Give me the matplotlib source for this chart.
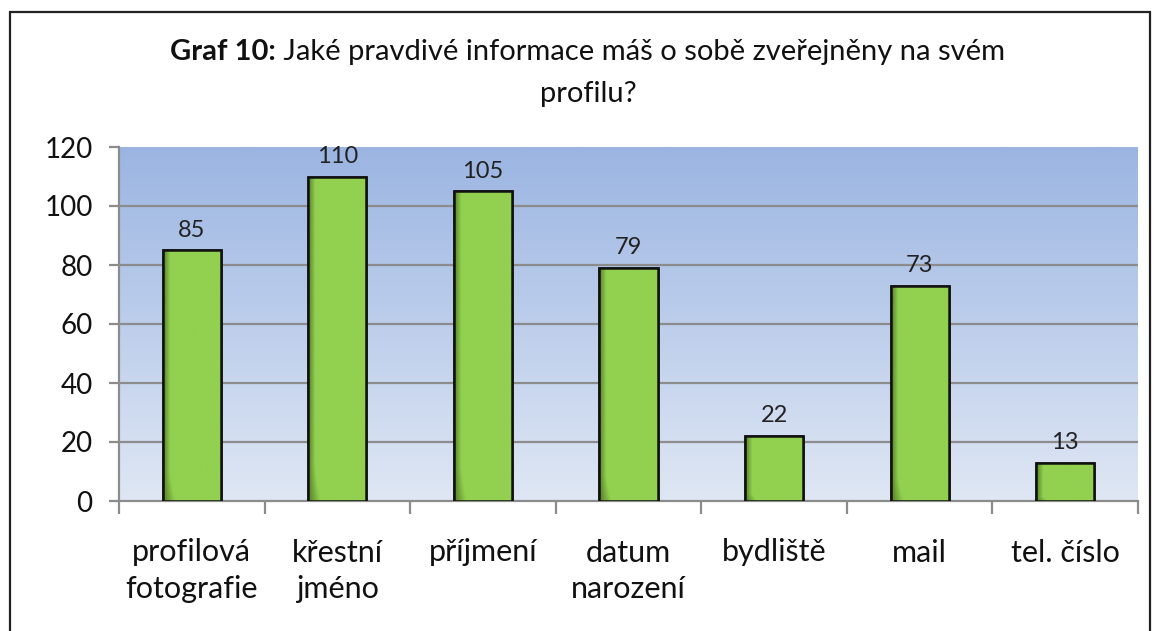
import numpy as np
import matplotlib.pyplot as plt
from matplotlib.patches import Rectangle
from matplotlib.colors import LinearSegmentedColormap

# data
categories = ["profilová\nfotografie", "křestní\njméno", "příjmení", "datum\nnarození",
              "bydliště", "mail", "tel. číslo"]
values = [85, 110, 105, 79, 22, 73, 13]
yticks = [0, 20, 40, 60, 80, 100, 120]

plt.rcParams['font.family'] = ['Lato', 'DejaVu Sans']

fig = plt.figure(figsize=(11.56, 6.31), dpi=100)
ax = fig.add_axes([119 / 1156, 1 - 501 / 631, (1138 - 119) / 1156, (501 - 147) / 631])

n = len(values)
x = np.arange(n)
ax.set_xlim(-0.5, n - 0.5)
ax.set_ylim(0, 120)

# gradient background of the plot area
bg = LinearSegmentedColormap.from_list("bg", ["#dfe7f4", "#9bb5e2"])
grad = np.linspace(0, 1, 256).reshape(-1, 1)
ax.imshow(grad, cmap=bg, aspect='auto', origin='lower',
          extent=(-0.5, n - 0.5, 0, 120), zorder=0)

# grid
for t in yticks[1:-1]:
    ax.axhline(t, color='#8c8c8c', lw=1.6, zorder=1)

# bars with horizontal shading
bars = ax.bar(x, values, width=0.4, color='#92d050', edgecolor='#111111',
              linewidth=1.8, zorder=3)
shade = LinearSegmentedColormap.from_list("sh", ["#557f28", "#92d050", "#92d050"])
hgrad = np.tile(np.concatenate([np.linspace(0, 1, 25), np.ones(75)]), (50, 1))
vgrad = np.concatenate([np.linspace(0.6, 1, 6), np.ones(44)]).reshape(-1, 1)
img = hgrad * vgrad
for b in bars:
    bx, bw, bh = b.get_x(), b.get_width(), b.get_height()
    im = ax.imshow(img, cmap=shade, vmin=0, vmax=1, aspect='auto', origin='lower',
                   extent=(bx, bx + bw, 0, bh), zorder=3.5)
    im.set_clip_path(b)
    ax.add_patch(Rectangle((bx, 0), bw, bh, fill=False, edgecolor='#111111',
                           lw=1.8, zorder=4))

# value labels
for xi, v in zip(x, values):
    ax.annotate(str(v), (xi, v), xytext=(0, 7), textcoords='offset points',
                ha='center', va='bottom', fontsize=17, color='#222222', zorder=5)

ax.set_xlim(-0.5, n - 0.5)
ax.set_ylim(0, 120)

# axes styling
for s in ['top', 'right']:
    ax.spines[s].set_visible(False)
for s in ['left', 'bottom']:
    ax.spines[s].set_color('#8c8c8c')
    ax.spines[s].set_linewidth(1.6)
ax.spines['bottom'].set_zorder(2)

ax.set_yticks(yticks)
ax.tick_params(axis='y', length=7, width=1.6, color='#8c8c8c', labelsize=20,
               pad=12, labelcolor='#111111')
ax.set_xticks(x)
ax.set_xticklabels(categories, fontsize=22, linespacing=1.38, color='#111111')
ax.tick_params(axis='x', which='major', length=0, pad=27)
ax.set_xticks(np.arange(n + 1) - 0.5, minor=True)
ax.tick_params(axis='x', which='minor', length=9, width=1.6, color='#8c8c8c')

# title
t1 = fig.text(170 / 1156, 1 - 52 / 631, "Graf 10:", fontsize=21, fontweight='bold',
              ha='left', va='center', color='#111111')
fig.canvas.draw()
ax.annotate(" Jaké pravdivé informace máš o sobě zveřejněny na svém", xy=(1, 0.5),
            xycoords=t1, ha='left', va='center', fontsize=21, color='#111111',
            annotation_clip=False)
fig.text(588 / 1156, 1 - 94 / 631, "profilu?", fontsize=21, ha='center', va='center',
         color='#111111')

# outer frame
fig.patches.append(Rectangle((10 / 1156, -0.01), 1140 / 1156, 1 - 12 / 631 + 0.01,
                             transform=fig.transFigure, fill=False,
                             edgecolor='#222222', lw=1.6))

fig.savefig("out.png", dpi=100, facecolor='white')
